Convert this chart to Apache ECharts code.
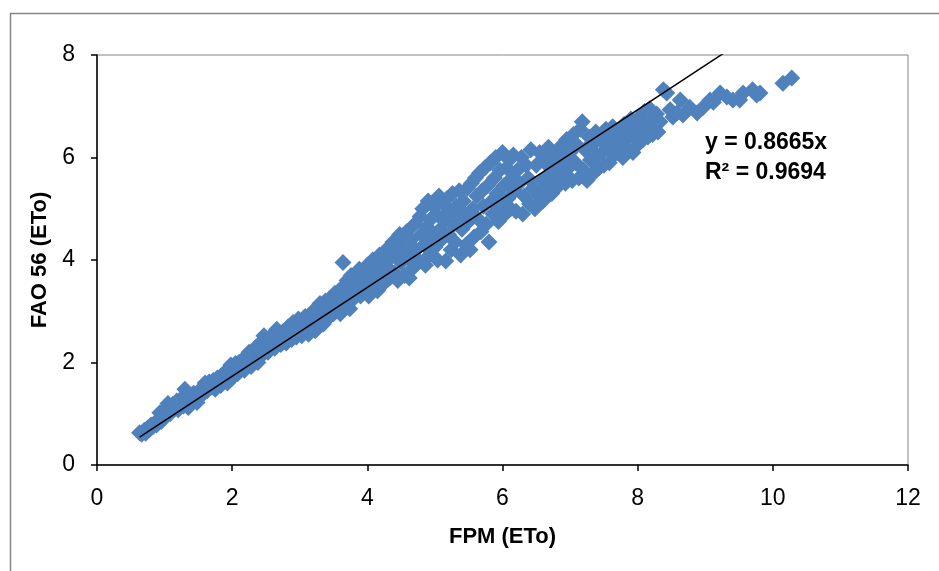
<!DOCTYPE html>
<html><head><meta charset="utf-8">
<script src="https://cdn.jsdelivr.net/npm/echarts@6/dist/echarts.min.js"></script>
<style>html,body{margin:0;padding:0;background:#fff}#c{width:939px;height:571px}</style>
</head><body><div id="c"></div>
<script>
// Axis ticks and titles
const xTicks = [0, 2, 4, 6, 8, 10, 12];
const yTicks = [0, 2, 4, 6, 8];
const xTitle = 'FPM (ETo)';
const yTitle = 'FAO 56 (ETo)';
// Trendline (through origin)
const trendSlope = 0.8665;
const trendR2 = 0.9694;

// Observations [FPM ETo, FAO 56 ETo]
const lowRange = [
  [0.63,0.63],[0.66,0.60],[0.70,0.68],[0.72,0.62],[0.75,0.72],[0.78,0.70],[0.80,0.78],[0.83,0.75],[0.86,0.82],[0.88,0.78],[0.90,0.88],[0.93,1.02],[0.95,0.85],[0.97,0.92],
  [1.00,0.95],[1.02,1.10],[1.05,1.20],[1.08,1.00],[1.10,1.05],[1.12,1.18],[1.15,1.10],[1.18,1.25],[1.20,1.08],[1.22,1.20],[1.25,1.30],[1.28,1.15],[1.30,1.48],[1.33,1.25],[1.35,1.12],[1.38,1.35],[1.40,1.25],[1.43,1.40],[1.45,1.30],[1.48,1.22],[1.50,1.42],
  [1.52,1.35],[1.55,1.50],[1.58,1.40],[1.60,1.60],[1.63,1.45],[1.66,1.62],[1.70,1.52],[1.72,1.65],[1.75,1.48],[1.78,1.70],[1.80,1.58],[1.83,1.55],[1.85,1.75],[1.88,1.65],[1.90,1.82],[1.93,1.60],[1.95,1.78],[1.98,1.95],[2.00,1.70],
  [2.03,1.85],[2.05,1.98],[2.08,1.78],[2.10,2.00],[2.13,1.90],[2.15,2.05],[2.18,1.85],[2.20,2.10],[2.23,1.98],[2.25,2.20],[2.28,1.92],[2.30,2.15],[2.33,2.05],[2.35,2.30],[2.38,2.00],[2.40,2.25],[2.43,2.40],[2.45,2.15],[2.47,2.52],[2.50,2.30],
  [2.53,2.20],[2.55,2.45],[2.58,2.35],[2.60,2.55],[2.63,2.28],[2.66,2.65],[2.70,2.45],[2.72,2.35],[2.75,2.60],[2.78,2.50],[2.80,2.38],[2.83,2.70],[2.85,2.55],[2.88,2.45],[2.90,2.78],[2.93,2.62],[2.95,2.50],[2.98,2.85]
];
const midRange = [
  [3.00,2.60],[3.03,2.52],[3.05,2.75],[3.08,2.90],[3.10,2.65],[3.13,2.55],[3.15,2.85],[3.18,2.98],[3.20,2.70],[3.23,2.62],[3.25,3.05],[3.28,2.85],[3.30,3.15],[3.33,2.95],[3.35,2.75],[3.38,3.20],[3.40,3.00],[3.43,2.88],[3.45,3.25],[3.48,3.10],
  [3.50,2.95],[3.52,3.35],[3.55,3.15],[3.58,3.40],[3.60,2.95],[3.62,3.25],[3.64,3.95],[3.66,3.50],[3.68,3.10],[3.70,3.60],[3.72,3.35],[3.74,3.05],[3.76,3.70],[3.78,3.45],[3.80,3.25],[3.83,3.65],[3.85,3.50],[3.88,3.82],[3.90,3.30],[3.92,3.60],[3.95,3.75],[3.98,3.45],
  [4.00,3.90],[4.02,3.30],[4.05,3.65],[4.08,4.00],[4.10,3.50],[4.12,3.80],[4.15,3.40],[4.18,4.10],[4.20,3.70],[4.23,3.95],[4.25,3.55],[4.28,4.20],[4.30,3.85],[4.33,3.65],[4.35,4.05],[4.38,4.35],[4.40,3.75],[4.43,4.15],[4.45,3.60],[4.48,4.50],[4.50,3.95],
  [4.52,4.25],[4.55,3.70],[4.58,4.55],[4.60,4.05],[4.62,3.65],[4.65,4.40],[4.68,3.85],[4.70,4.70],[4.72,4.20],[4.75,4.00],[4.78,4.85],[4.80,4.50],[4.82,5.00],[4.84,4.30],[4.86,3.90],[4.88,4.65],[4.90,5.15],[4.92,4.10],[4.94,4.80],[4.96,4.45],[4.98,5.05],
  [5.00,4.25],[5.02,4.90],[5.04,4.00],[5.06,5.25],[5.08,4.60],[5.10,4.40],[5.12,5.10],[5.14,4.75],[5.16,3.98],[5.18,5.20],[5.20,4.50],[5.22,4.95],[5.24,4.20],[5.26,5.30],[5.28,4.70],[5.30,4.35],[5.32,5.05],[5.34,4.85],[5.36,5.35],[5.38,4.10],[5.40,4.60],[5.42,5.15],[5.44,4.90],[5.46,4.30],[5.48,5.40],[5.50,4.75],
  [5.52,4.20],[5.54,5.50],[5.56,5.00],[5.58,4.45],[5.60,5.60],[5.62,5.25],[5.64,4.80],[5.66,5.70],[5.68,4.55],[5.70,5.35],[5.72,5.05],[5.74,5.80],[5.76,4.70],[5.78,5.45],[5.80,4.35],[5.82,5.90],[5.84,5.15],[5.86,4.90],[5.88,5.60],[5.90,6.00],[5.92,5.30],[5.94,4.75],[5.96,5.75],[5.98,5.05]
];
const highRange = [
  [6.00,6.10],[6.02,5.45],[6.04,4.90],[6.06,5.80],[6.08,5.20],[6.10,5.95],[6.12,5.00],[6.14,5.60],[6.16,6.05],[6.18,5.35],[6.20,4.95],[6.22,5.75],[6.25,5.50],[6.28,6.00],[6.30,4.90],[6.32,5.25],[6.35,5.85],[6.38,5.60],[6.40,5.10],[6.42,6.15],[6.45,5.40],[6.48,5.00],
  [6.50,5.85],[6.53,5.25],[6.55,6.10],[6.58,5.55],[6.60,5.15],[6.63,5.90],[6.65,5.40],[6.68,6.20],[6.70,5.70],[6.73,5.30],[6.75,6.05],[6.78,5.50],[6.80,5.85],[6.83,5.45],[6.85,6.20],[6.88,5.65],[6.90,6.00],[6.93,5.50],[6.95,6.35],[6.98,5.80],
  [7.00,6.10],[7.03,5.55],[7.05,6.45],[7.08,5.90],[7.10,6.25],[7.13,5.60],[7.15,6.55],[7.18,6.70],[7.20,5.75],[7.22,6.15],[7.25,5.55],[7.28,6.40],[7.30,5.95],[7.33,6.25],[7.35,5.70],[7.38,6.50],[7.40,6.05],[7.43,5.80],[7.45,6.35],[7.48,6.10],
  [7.50,5.85],[7.53,6.55],[7.55,6.20],[7.58,5.90],[7.60,6.40],[7.63,6.60],[7.65,6.05],[7.68,6.30],[7.70,6.10],[7.73,6.50],[7.75,6.20],[7.78,6.00],[7.80,6.65],[7.83,6.35],[7.85,6.15],[7.88,6.55],[7.90,6.75],[7.93,6.10],[7.95,6.40],[7.98,6.60],
  [8.00,6.25],[8.03,6.80],[8.05,6.50],[8.08,6.35],[8.10,6.90],[8.12,6.60],[8.15,6.40],[8.18,6.95],[8.20,6.70],[8.22,6.45],[8.25,6.60],[8.28,6.85],[8.30,6.50],[8.33,6.70]
];
const tailRange = [
  [8.38,7.32],[8.43,7.26],[8.48,6.93],[8.52,6.79],[8.58,6.87],[8.63,7.12],[8.67,6.83],[8.77,6.98],[8.88,6.87],[8.97,6.98],[9.07,7.12],[9.12,7.08],[9.22,7.26],[9.32,7.18],[9.41,7.12],[9.51,7.12],[9.56,7.26],[9.70,7.32],[9.76,7.22],[9.81,7.26],[10.15,7.45],[10.28,7.55]
];

const observations = lowRange.concat(midRange, highRange, tailRange);
const xs = observations.map(p => p[0]);
const xMin = Math.min.apply(null, xs), xMax = Math.max.apply(null, xs);
const trendData = [[xMin, trendSlope * xMin], [xMax, trendSlope * xMax]];

const FONT = "'Liberation Sans', Arial, sans-serif";
const chart = echarts.init(document.getElementById('c'), null, {renderer: 'canvas'});
chart.setOption({
  animation: false,
  backgroundColor: '#fff',
  grid: {left: 97, right: 31, top: 55, bottom: 106, show: true, borderColor: '#868686', borderWidth: 1, backgroundColor: 'transparent'},
  xAxis: {
    type: 'value', min: xTicks[0], max: xTicks[xTicks.length - 1], interval: 2,
    name: xTitle, nameLocation: 'middle', nameGap: 61,
    nameTextStyle: {fontFamily: FONT, fontSize: 22, fontWeight: 'bold', color: '#000'},
    axisLine: {show: true, lineStyle: {color: '#000', width: 1.5}},
    axisTick: {show: true, length: 6, lineStyle: {color: '#000', width: 1.5}},
    axisLabel: {fontFamily: FONT, fontSize: 23, color: '#000', margin: 22},
    splitLine: {show: false}
  },
  yAxis: {
    type: 'value', min: yTicks[0], max: yTicks[yTicks.length - 1], interval: 2,
    name: yTitle, nameLocation: 'middle', nameGap: 45, nameRotate: 90,
    nameTextStyle: {fontFamily: FONT, fontSize: 22, fontWeight: 'bold', color: '#000'},
    axisLine: {show: true, lineStyle: {color: '#000', width: 1.5}},
    axisTick: {show: true, length: 6, lineStyle: {color: '#000', width: 1.5}},
    axisLabel: {fontFamily: FONT, fontSize: 23, color: '#000', margin: 22},
    splitLine: {show: false}
  },
  series: [
    {
      type: 'scatter', data: observations, symbol: 'diamond', symbolSize: 17,
      itemStyle: {color: '#4F81BD', borderWidth: 0, opacity: 1},
      clip: true, z: 2
    },
    {
      type: 'line', data: trendData, symbol: 'none', clip: true,
      lineStyle: {color: '#000', width: 1.5}, z: 3
    }
  ],
  graphic: [
    {type: 'rect', left: 8, top: 11, shape: {width: 1000, height: 1000}, style: {fill: 'none', stroke: '#868686', lineWidth: 1.5}, silent: true, z: -1},
    {type: 'text', left: 705, top: 131, style: {text: 'y = ' + trendSlope.toFixed(4) + 'x', fontFamily: FONT, fontSize: 23, fontWeight: 'bold', fill: '#000'}},
    {type: 'text', left: 705, top: 161, style: {text: 'R\u00B2 = ' + trendR2.toFixed(4), fontFamily: FONT, fontSize: 23, fontWeight: 'bold', fill: '#000'}}
  ]
});
</script></body></html>
